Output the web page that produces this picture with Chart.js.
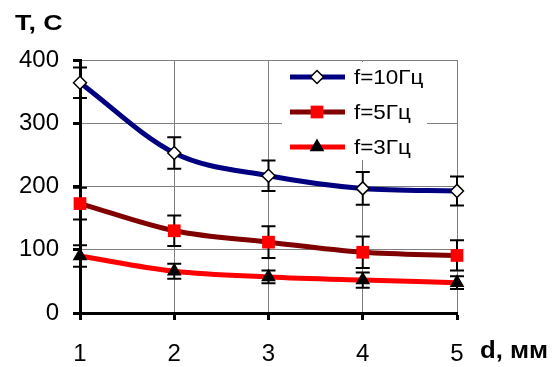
<!DOCTYPE html>
<html>
<head>
<meta charset="utf-8">
<script src="https://cdn.jsdelivr.net/npm/chart.js@4.4.0/dist/chart.umd.min.js"></script>
<style>
    html, body { margin: 0; padding: 0; background: #fff; }
    #wrap { width: 557px; height: 367px; position: relative; }
</style>
</head>
<body>
<div id="wrap"><canvas id="chart"></canvas></div>
<script>
// values
var distances = [1, 2, 3, 4, 5];
var f10 = [364, 253, 217, 197, 193];
var f5 = [173, 130, 112, 96, 91];
var f3 = [90, 66, 57, 52, 48];
var f10Err = [24, 25, 24, 26, 23];
var f5Err = [25, 24, 25, 25, 24];
var f3Err = [17, 12, 10, 12, 10];
var seriesLabels = ['f=10Гц', 'f=5Гц', 'f=3Гц'];
var yAxisTitle = 'T, C';
var xAxisTitle = 'd, мм';

var FONT = '"Liberation Sans", Arial, sans-serif';

function toPoints(values) {
    return distances.map(function(d, i) { return { x: d, y: values[i] }; });
}

var seriesStyles = [
    { color: '#000080', point: 'rectRot', radius: 6.5, fill: '#ffffff', border: '#000000', borderW: 1.5 },
    { color: '#800000', point: 'rect', radius: 9, fill: '#ff0000', border: '#ff0000', borderW: 0 },
    { color: '#ff0000', point: 'triangle', radius: 8.5, fill: '#000000', border: '#000000', borderW: 0 }
];
var seriesValues = [f10, f5, f3];
var seriesErrors = [f10Err, f5Err, f3Err];

var datasets = seriesValues.map(function(vals, i) {
    var s = seriesStyles[i];
    return {
        label: seriesLabels[i],
        data: toPoints(vals),
        errors: seriesErrors[i],
        borderColor: s.color,
        borderWidth: 5,
        cubicInterpolationMode: 'monotone',
        pointStyle: s.point,
        pointRadius: s.radius,
        pointBackgroundColor: s.fill,
        pointBorderColor: s.border,
        pointBorderWidth: s.borderW,
        clip: false,
        fill: false
    };
});

var errorBars = {
    id: 'errorBars',
    beforeDatasetsDraw: function(chart) {
        var ctx = chart.ctx;
        var xs = chart.scales.x, ys = chart.scales.y;
        ctx.save();
        ctx.strokeStyle = '#000';
        ctx.lineWidth = 2;
        chart.data.datasets.forEach(function(ds) {
            ds.data.forEach(function(p, i) {
                var px = xs.getPixelForValue(p.x);
                var top = ys.getPixelForValue(p.y + ds.errors[i]);
                var bot = ys.getPixelForValue(p.y - ds.errors[i]);
                ctx.beginPath();
                ctx.moveTo(px, top); ctx.lineTo(px, bot);
                ctx.moveTo(px - 7, top); ctx.lineTo(px + 7, top);
                ctx.moveTo(px - 7, bot); ctx.lineTo(px + 7, bot);
                ctx.stroke();
            });
        });
        ctx.restore();
    }
};

function stretchedText(ctx, text, x, y, sx) {
    ctx.save();
    ctx.translate(x, y);
    ctx.scale(sx, 1);
    ctx.fillText(text, 0, 0);
    ctx.restore();
}

var legendAndTitles = {
    id: 'legendAndTitles',
    afterDraw: function(chart) {
        var ctx = chart.ctx;
        ctx.save();
        ctx.fillStyle = '#fff';
        ctx.fillRect(282, 62, 145, 98);
        chart.data.datasets.forEach(function(ds, i) {
            var y = 77 + i * 35;
            var s = seriesStyles[i];
            ctx.strokeStyle = s.color;
            ctx.lineWidth = 5;
            ctx.beginPath();
            ctx.moveTo(290, y); ctx.lineTo(345, y);
            ctx.stroke();
            ctx.fillStyle = s.fill;
            ctx.strokeStyle = s.border;
            ctx.lineWidth = s.borderW;
            Chart.helpers.drawPoint(ctx, { pointStyle: s.point, radius: s.radius, borderWidth: s.borderW }, 317, y);
            ctx.fillStyle = '#000';
            ctx.font = '21px ' + FONT;
            ctx.textBaseline = 'middle';
            ctx.textAlign = 'left';
            stretchedText(ctx, ds.label, 354, y + 1, 1.07);
        });
        ctx.fillStyle = '#000';
        ctx.font = 'bold 22px ' + FONT;
        ctx.textBaseline = 'middle';
        ctx.textAlign = 'left';
        stretchedText(ctx, yAxisTitle, 15, 24, 1.22);
        ctx.font = 'bold 23px ' + FONT;
        stretchedText(ctx, xAxisTitle, 480, 352, 1.12);
        ctx.restore();
    }
};

new Chart(document.getElementById('chart').getContext('2d'), {
    type: 'line',
    data: { datasets: datasets },
    options: {
        responsive: true,
        maintainAspectRatio: false,
        animation: false,
        layout: { padding: { left: 0, right: 100, top: 60, bottom: 0 } },
        scales: {
            x: {
                type: 'linear',
                min: 1,
                max: 5,
                afterFit: function(scale) { scale.height = 54; },
                ticks: {
                    stepSize: 1,
                    padding: 20,
                    color: '#000',
                    font: { family: FONT, size: 24 }
                },
                grid: {
                    color: '#808080',
                    lineWidth: 1,
                    tickLength: 7,
                    tickColor: '#000',
                    tickWidth: 3
                },
                border: { color: '#000', width: 3 }
            },
            y: {
                min: 0,
                max: 400,
                afterFit: function(scale) { scale.width = 80; },
                ticks: {
                    stepSize: 50,
                    padding: 14,
                    color: '#000',
                    font: { family: FONT, size: 24 },
                    callback: function(v) { return v % 100 === 0 ? v : ''; }
                },
                grid: {
                    color: '#808080',
                    lineWidth: 1,
                    tickLength: 7,
                    tickWidth: 3,
                    tickColor: function(c) {
                        return c.tick && c.tick.value % 100 === 0 ? '#000' : 'rgba(0,0,0,0)';
                    }
                },
                border: { color: '#000', width: 3 }
            }
        },
        plugins: {
            legend: { display: false },
            tooltip: { enabled: false }
        }
    },
    plugins: [errorBars, legendAndTitles]
});
</script>
</body>
</html>
